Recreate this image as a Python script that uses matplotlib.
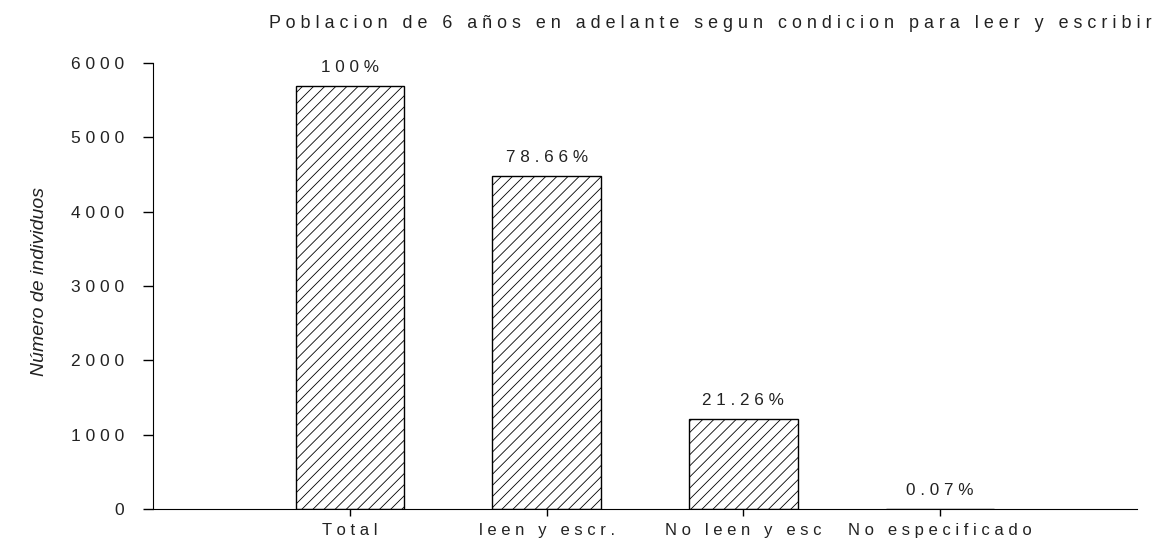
import matplotlib.pyplot as plt

plt.rcParams['font.family'] = ['Liberation Sans', 'DejaVu Sans']
plt.rcParams['hatch.linewidth'] = 0.6

# data
categories = ['Total', 'leen y escr.', 'No leen y esc', 'No especificado']
counts = [5690, 4476, 1210, 4]
pct_labels = ['100%', '78.66%', '21.26%', '0.07%']
yticks = [0, 1000, 2000, 3000, 4000, 5000, 6000]
title = 'Poblacion de 6 años en adelante segun condicion para leer y escribir'


def spaced(s):
    # the original chart uses wide letter spacing everywhere
    return ' '.join(s)


fig = plt.figure(figsize=(11.64, 5.47), dpi=100)
ax = fig.add_axes([153 / 1164, 38 / 547, (1137 - 153) / 1164, (509 - 63) / 547])

x = list(range(len(categories)))
ax.bar(x, counts, width=0.55, color='white', edgecolor='black',
       linewidth=1, hatch='///')

for xi, v, lab in zip(x, counts, pct_labels):
    ax.annotate(spaced(lab), (xi, v), xytext=(0, 8), textcoords='offset points',
                ha='center', va='bottom', fontsize=12.3, color='#222222')

ax.set_xlim(-1, 4)
ax.set_ylim(0, 6000)
ax.set_xticks(x)
ax.set_xticklabels([spaced(c) for c in categories], fontsize=12, color='#222222')
ax.set_yticks(yticks)
ax.set_yticklabels([spaced(str(t)) for t in yticks], fontsize=12.5, color='#222222')

ax.spines['top'].set_visible(False)
ax.spines['right'].set_visible(False)
ax.tick_params(axis='y', direction='out', length=7, width=1, pad=14)
ax.tick_params(axis='x', direction='out', length=5, width=1, pad=5)

ax.set_ylabel('Número de individuos', fontsize=14, style='italic', color='#222222')
ax.yaxis.set_label_coords(-0.107, 0.51)

fig.text(1152 / 1164, 1 - 23 / 547, spaced(title), ha='right', va='center',
         fontsize=12.9, color='#222222')

plt.savefig('out.png')
